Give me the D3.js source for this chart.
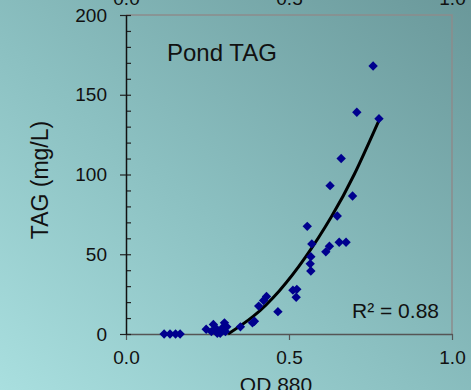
<!DOCTYPE html>
<html>
<head>
<meta charset="utf-8">
<script src="https://cdn.jsdelivr.net/npm/d3@7"></script>
<style>
  html, body { margin: 0; padding: 0; }
  body { width: 471px; height: 390px; overflow: hidden; }
  svg { display: block; font-family: "Liberation Sans", Arial, sans-serif; }
</style>
</head>
<body>
<div id="chart"></div>
<script>

var od880 = [0.117, 0.135, 0.152, 0.166,
  0.246, 0.262, 0.268, 0.276, 0.280, 0.289, 0.294, 0.302, 0.309, 0.305,
  0.351, 0.388, 0.394, 0.407, 0.422, 0.431, 0.466,
  0.512, 0.524, 0.522, 0.556, 0.565, 0.567, 0.567, 0.570,
  0.613, 0.624, 0.626, 0.648, 0.654, 0.675, 0.660, 0.695,
  0.708, 0.758, 0.776];
var tag = [0, 0, 0, 0,
  3, 1.5, 6, 3.5, 0.5, 0.5, 3.5, 7, 4.5, 1.5,
  4.5, 7, 8, 17.5, 21, 23.5, 14,
  27.5, 28, 23, 67.5, 44, 39.5, 48.5, 56.5,
  51.5, 55, 93, 74, 57.5, 57.5, 110, 86.5,
  139, 168, 135];

// trendline (2nd order polynomial) as it is drawn in the picture
var trendX = [0.313, 0.39, 0.47, 0.55, 0.63, 0.70, 0.776];
var trendY = [0, 11, 27, 48, 73.5, 100, 134];

var xTicks = [0, 0.5, 1];
var yTicks = [0, 50, 100, 150, 200];
var yMinorTicks = d3.range(0, 201, 10);
var title = "Pond TAG";
var xLabel = "OD 880";
var yLabel = "TAG (mg/L)";
var r2Label = "R\u00b2 = 0.88";

var width = 471, height = 390;
var plotLeft = 126, plotRight = 452, plotTop = 15, plotBottom = 334;

var svg = d3.select("#chart").append("svg")
    .attr("width", width)
    .attr("height", height);

var defs = svg.append("defs");
var grad = defs.append("linearGradient")
    .attr("id", "bg")
    .attr("x1", "0%").attr("y1", "100%")
    .attr("x2", "100%").attr("y2", "0%");
grad.append("stop").attr("offset", "0%").attr("stop-color", "#a9dfdf");
grad.append("stop").attr("offset", "45%").attr("stop-color", "#8bc0c1");
grad.append("stop").attr("offset", "100%").attr("stop-color", "#6a989a");

svg.append("rect")
    .attr("width", width)
    .attr("height", height)
    .attr("fill", "url(#bg)");

var x = d3.scaleLinear().domain([0, 1]).range([plotLeft, plotRight]);
var y = d3.scaleLinear().domain([0, 200]).range([plotBottom, plotTop]);

// plot border (top and right)
svg.append("path")
    .attr("d", "M" + plotLeft + "," + plotTop + "H" + plotRight + "V" + plotBottom)
    .attr("fill", "none")
    .attr("stroke", "#8c8c8c")
    .attr("stroke-width", 1.5);

// top axis labels (cut off by the picture edge)
svg.append("g")
    .attr("transform", "translate(0," + plotTop + ")")
    .call(d3.axisTop(x).tickValues(xTicks).tickFormat(d3.format(".1f")).tickSize(0).tickPadding(10))
    .call(function(g) { g.select(".domain").remove(); })
    .selectAll("text")
    .attr("font-size", 19)
    .attr("fill", "#111");

// bottom axis
var xAxis = svg.append("g")
    .attr("transform", "translate(0," + plotBottom + ")")
    .call(d3.axisBottom(x).tickValues(xTicks).tickFormat(d3.format(".1f")).tickSize(6).tickSizeOuter(0).tickPadding(11));
xAxis.select(".domain").attr("stroke", "#555").attr("stroke-width", 1.5);
xAxis.selectAll("line").attr("stroke", "#555").attr("stroke-width", 1.2);
xAxis.selectAll("text").attr("font-size", 19).attr("fill", "#111");

// left axis, minor ticks inside
svg.append("g")
    .attr("transform", "translate(" + plotLeft + ",0)")
    .call(d3.axisRight(y).tickValues(yMinorTicks).tickSize(5).tickFormat(""))
    .call(function(g) { g.select(".domain").remove(); })
    .selectAll("line").attr("stroke", "#222").attr("stroke-width", 1.2);

var yAxis = svg.append("g")
    .attr("transform", "translate(" + plotLeft + ",0)")
    .call(d3.axisLeft(y).tickValues(yTicks).tickSize(6).tickSizeOuter(0).tickPadding(13));
yAxis.select(".domain").attr("stroke", "#111").attr("stroke-width", 1.5);
yAxis.selectAll("line").attr("stroke", "#222").attr("stroke-width", 1.2);
yAxis.selectAll("text").attr("font-size", 19).attr("fill", "#111");

// trendline
svg.append("path")
    .datum(trendX)
    .attr("d", d3.line()
        .curve(d3.curveNatural)
        .x(function(d) { return x(d); })
        .y(function(d, i) { return y(trendY[i]); }))
    .attr("fill", "none")
    .attr("stroke", "#000")
    .attr("stroke-width", 3);

// diamonds
svg.append("g").selectAll("path")
    .data(od880)
  .enter().append("path")
    .attr("d", d3.symbol().type(d3.symbolSquare).size(44))
    .attr("transform", function(d, i) { return "translate(" + x(d) + "," + y(tag[i]) + ") rotate(45)"; })
    .attr("fill", "#00008e");

svg.append("text")
    .attr("x", 167).attr("y", 61)
    .attr("font-size", 24)
    .attr("fill", "#111")
    .text(title);

svg.append("text")
    .attr("x", 439).attr("y", 318)
    .attr("text-anchor", "end")
    .attr("font-size", 21)
    .attr("fill", "#111")
    .text(r2Label);

svg.append("text")
    .attr("x", 276).attr("y", 392)
    .attr("text-anchor", "middle")
    .attr("font-size", 21)
    .attr("fill", "#111")
    .text(xLabel);

svg.append("text")
    .attr("transform", "translate(48,180) rotate(-90)")
    .attr("text-anchor", "middle")
    .attr("font-size", 23)
    .attr("fill", "#111")
    .text(yLabel);

</script>
</body>
</html>
